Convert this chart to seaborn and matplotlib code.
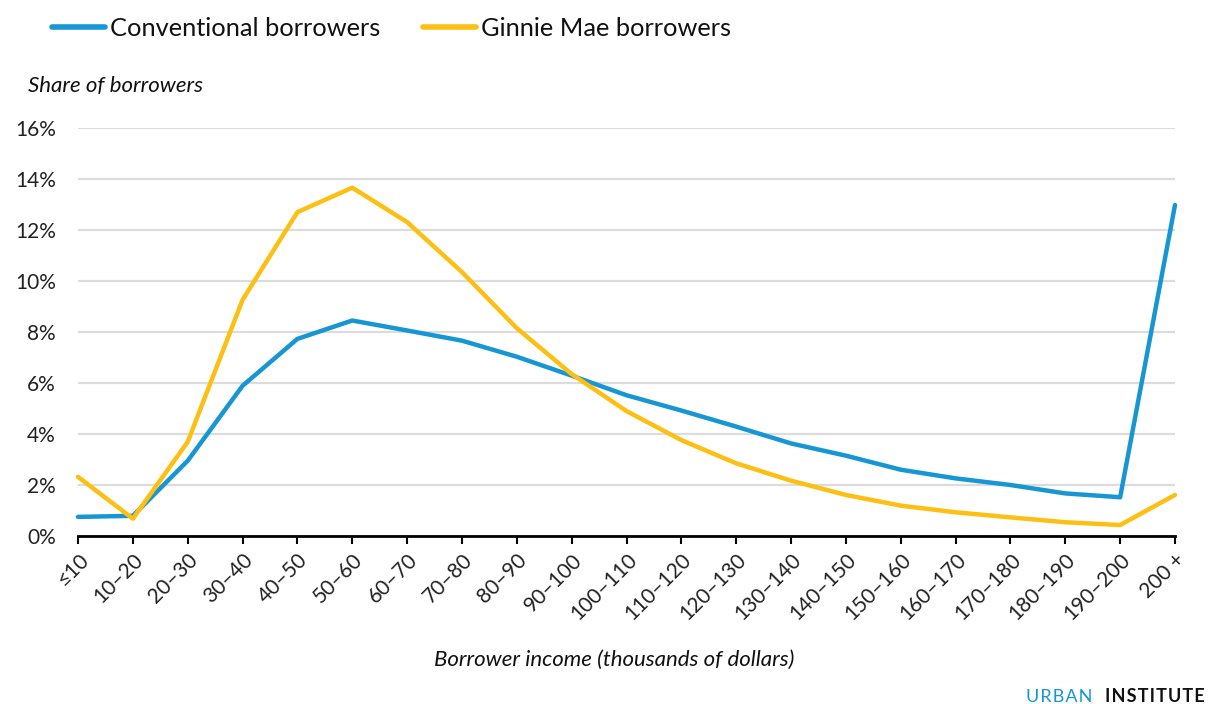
import matplotlib
matplotlib.use("Agg")
import matplotlib.pyplot as plt
import seaborn as sns
import pandas as pd
import numpy as np
from matplotlib.lines import Line2D

categories = ["≤10", "10–20", "20–30", "30–40", "40–50", "50–60", "60–70", "70–80",
              "80–90", "90–100", "100–110", "110–120", "120–130", "130–140", "140–150",
              "150–160", "160–170", "170–180", "180–190", "190–200", "200 +"]
conventional = [0.75, 0.79, 2.95, 5.89, 7.73, 8.45, 8.06, 7.66, 7.03, 6.29, 5.52,
                4.92, 4.29, 3.63, 3.15, 2.60, 2.26, 2.00, 1.67, 1.52, 12.98]
ginnie = [2.32, 0.68, 3.69, 9.26, 12.70, 13.66, 12.31, 10.35, 8.15, 6.35, 4.90,
          3.76, 2.85, 2.17, 1.61, 1.19, 0.93, 0.73, 0.54, 0.43, 1.61]
series_names = ["Conventional borrowers", "Ginnie Mae borrowers"]
yticks = [0, 2, 4, 6, 8, 10, 12, 14, 16]

sns.set_style("white")
plt.rcParams['font.family'] = ['Lato', 'DejaVu Sans']

df = pd.DataFrame({
    "pos": list(range(len(categories))) * 2,
    "value": conventional + ginnie,
    "series": [series_names[0]] * len(categories) + [series_names[1]] * len(categories),
})

fig = plt.figure(figsize=(12.08, 7.04), dpi=100)
ax = fig.add_axes([78/1208, 1 - 536/704, (1175-78)/1208, (536-128)/704])

palette = {series_names[0]: "#1696d2", series_names[1]: "#fdbf11"}
sns.lineplot(data=df, x="pos", y="value", hue="series", palette=palette,
             linewidth=3.2, ax=ax, legend=False, zorder=3)
for ln in ax.get_lines():
    ln.set_solid_capstyle("round")
    ln.set_clip_on(False)

ax.set_xlim(0, len(categories) - 1)
ax.set_ylim(0, 16)
ax.set_yticks(yticks)
ax.set_yticklabels([f"{v}%" for v in yticks], fontsize=15, color="#222222")
ax.set_xticks(range(len(categories)))
ax.set_xticklabels(categories, rotation=45, ha="right", rotation_mode="anchor",
                   fontsize=15, color="#222222")
ax.tick_params(axis="x", bottom=True, direction="out", length=6, width=1.5,
               color="black", pad=4)
ax.tick_params(axis="y", left=False, length=0, pad=16)
ax.grid(axis="y", color="#dcdcdc", linewidth=1.6, zorder=0)
ax.grid(axis="x", visible=False)
for s in ["top", "right", "left"]:
    ax.spines[s].set_visible(False)
ax.spines["bottom"].set_color("black")
ax.spines["bottom"].set_linewidth(2)
ax.spines["bottom"].set_zorder(4)
ax.set_xlabel("")
ax.set_ylabel("")

handles = [Line2D([0], [0], color=palette[n], linewidth=4, solid_capstyle="round") for n in series_names]
fig.legend(handles, series_names, loc="center left", bbox_to_anchor=(52/1208, 1 - 28/704),
           ncol=2, frameon=False, fontsize=18.3, handlelength=2.1, handletextpad=0.2,
           columnspacing=1.65, labelcolor="#111111", borderaxespad=0, borderpad=0)

fig.text(28/1208, 1 - 86/704, "Share of borrowers", style="italic", fontsize=16,
         va="center", ha="left", color="#111111")
fig.text(614/1208, 1 - 660/704, "Borrower income (thousands of dollars)", style="italic",
         fontsize=16, va="center", ha="center", color="#111111")
hs = "\u200a"
fig.text(1205/1208, 1 - 697/704, hs.join("INSTITUTE"), fontsize=13, fontweight="bold",
         va="center", ha="right", color="#111111")
fig.text(1092/1208, 1 - 697/704, hs.join("URBAN"), fontsize=13,
         va="center", ha="right", color="#1696d2")

fig.savefig("out.png", dpi=100)
